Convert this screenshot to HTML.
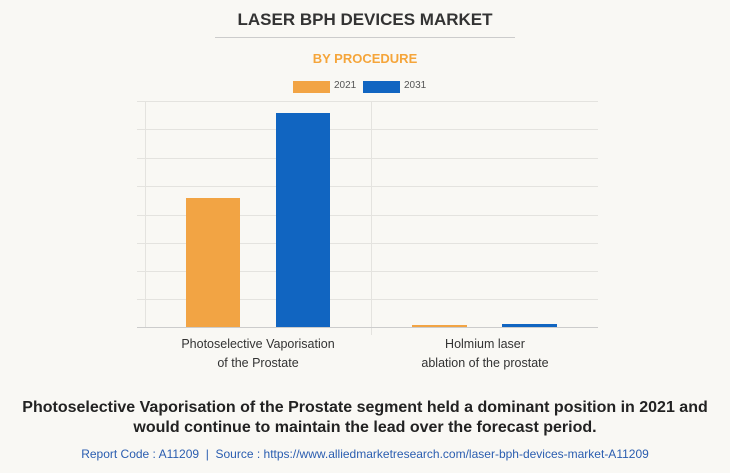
<!DOCTYPE html>
<html><head><style>
body{margin:0;width:730px;height:473px;background:#f9f8f4;font-family:"Liberation Sans",Arial,sans-serif;position:relative;overflow:hidden}
.a{position:absolute}
.g{position:absolute;left:137px;width:461px;height:1px;background:#e4e3df}
</style></head><body>
<div class="a" style="left:0;width:730px;top:10px;text-align:center;font-weight:bold;font-size:17px;color:#333">LASER BPH DEVICES MARKET</div>
<div class="a" style="left:215px;width:300px;top:37px;height:1px;background:#ccc"></div>
<div class="a" style="left:0;width:730px;top:51px;text-align:center;font-weight:bold;font-size:13px;color:#f5a53a">BY PROCEDURE</div>
<div class="a" style="left:293px;top:81px;width:37px;height:12px;background:#f2a444"></div>
<div class="a" style="left:334px;top:80px;font-size:10px;color:#555">2021</div>
<div class="a" style="left:363px;top:81px;width:37px;height:12px;background:#1165c1"></div>
<div class="a" style="left:404px;top:80px;font-size:10px;color:#555">2031</div>
<div class="g" style="top:101px"></div><div class="g" style="top:129px"></div><div class="g" style="top:158px"></div><div class="g" style="top:186px"></div><div class="g" style="top:215px"></div><div class="g" style="top:243px"></div><div class="g" style="top:271px"></div><div class="g" style="top:299px"></div>
<div class="a" style="left:145px;top:101px;width:1px;height:226px;background:#e4e3df"></div>
<div class="a" style="left:371px;top:101px;width:1px;height:234px;background:#e4e3df"></div>
<div class="a" style="left:186px;top:198px;width:54px;height:129px;background:#f2a444"></div>
<div class="a" style="left:276px;top:113px;width:54px;height:214px;background:#1165c1"></div>
<div class="a" style="left:412px;top:325px;width:55px;height:2px;background:#f2a444"></div>
<div class="a" style="left:502px;top:324px;width:55px;height:3px;background:#1165c1"></div>
<div class="a" style="left:137px;top:327px;width:461px;height:1px;background:#ccc"></div>
<div class="a" style="left:158px;width:200px;top:335px;text-align:center;font-size:12.5px;line-height:19px;color:#333">Photoselective Vaporisation<br>of the Prostate</div>
<div class="a" style="left:385px;width:200px;top:335px;text-align:center;font-size:12.5px;line-height:19px;color:#333">Holmium laser<br>ablation of the prostate</div>
<div class="a" style="left:0;width:730px;top:398px;text-align:center;font-weight:bold;font-size:16px;line-height:20px;color:#222">Photoselective Vaporisation of the Prostate segment held a dominant position in 2021 and<br>would continue to maintain the lead over the forecast period.</div>
<div class="a" style="left:0;width:730px;top:447px;text-align:center;font-size:12px;color:#2a5db0">Report Code : A11209 &nbsp;|&nbsp; Source : https://www.alliedmarketresearch.com/laser-bph-devices-market-A11209</div>
</body></html>
